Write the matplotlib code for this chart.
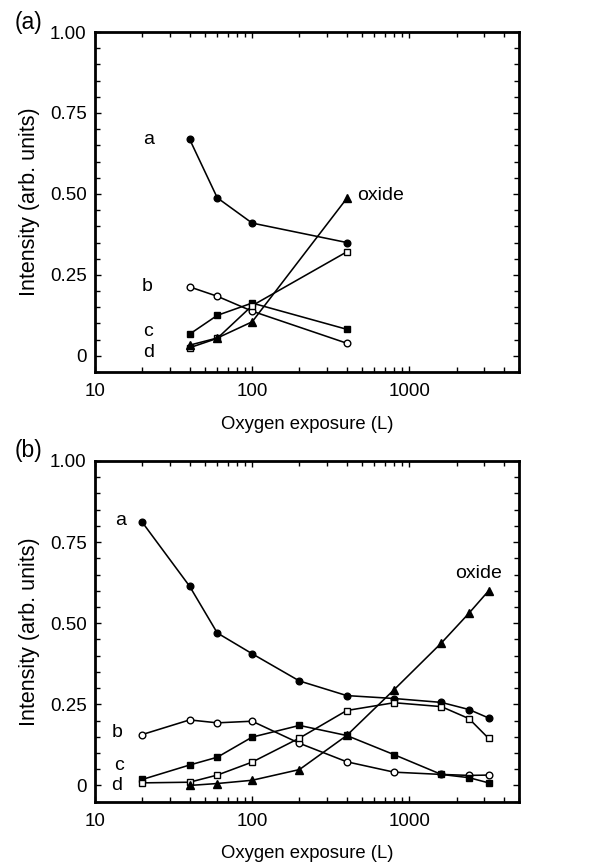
import matplotlib
matplotlib.use("Agg")
import matplotlib.pyplot as plt
from matplotlib.ticker import FixedLocator, FixedFormatter, LogLocator, NullFormatter, MultipleLocator

plt.rcParams['font.family'] = ['Liberation Sans', 'DejaVu Sans']

# Panel (a)
xa = [40, 60, 100, 400]
a_a = [0.669, 0.488, 0.410, 0.350]
b_a = [0.213, 0.184, 0.138, 0.039]
c_a = [0.067, 0.125, 0.163, 0.082]
d_a = [0.025, 0.054, 0.155, 0.321]
ox_a = [0.033, 0.055, 0.105, 0.486]

# Panel (b)
xb = [20, 40, 60, 100, 200, 400, 800, 1600, 2400, 3200]
a_b = [0.811, 0.614, 0.470, 0.406, 0.322, 0.277, 0.268, 0.256, 0.234, 0.208]
b_b = [0.157, 0.202, 0.193, 0.198, 0.130, 0.073, 0.041, 0.034, 0.031, 0.032]
c_b = [0.0185, 0.063, 0.087, 0.149, 0.185, 0.154, 0.095, 0.034, 0.024, 0.008]
d_b = [0.008, 0.010, 0.032, 0.072, 0.146, 0.231, 0.255, 0.243, 0.206, 0.145]
xb_ox = [40, 60, 100, 200, 400, 800, 1600, 2400, 3200]
ox_b = [0.0, 0.006, 0.016, 0.049, 0.154, 0.295, 0.439, 0.531, 0.600]

yticks = [0, 0.25, 0.5, 0.75, 1.0]
ytick_labels = ["0", "0.25", "0.50", "0.75", "1.00"]
xticks = [10, 100, 1000]
xtick_labels = ["10", "100", "1000"]

fig = plt.figure(figsize=(5.89, 8.68), dpi=100)
ax1 = fig.add_axes([0.1613, 0.5714, 0.7200, 0.3917])
ax2 = fig.add_axes([0.1613, 0.0764, 0.7200, 0.3925])

ms = 4.8
lw = 1.15
tick_fs = 13.5

def draw(ax, x, a, b, c, d, xo, ox):
    kw = dict(color='black', lw=lw, markeredgewidth=1.0, clip_on=False)
    ax.plot(x, a, marker='o', ms=ms, mfc='black', mec='black', **kw)
    ax.plot(x, b, marker='o', ms=ms, mfc='white', mec='black', **kw)
    ax.plot(x, c, marker='s', ms=ms - 0.4, mfc='black', mec='black', **kw)
    ax.plot(x, d, marker='s', ms=ms - 0.4, mfc='white', mec='black', **kw)
    ax.plot(xo, ox, marker='^', ms=ms + 0.3, mfc='black', mec='black', **kw)
    ax.set_xscale('log')
    ax.set_xlim(10, 5000)
    ax.set_ylim(-0.05, 1.0)
    ax.xaxis.set_major_locator(FixedLocator(xticks))
    ax.xaxis.set_major_formatter(FixedFormatter(xtick_labels))
    ax.xaxis.set_minor_locator(LogLocator(base=10, subs=range(2, 10)))
    ax.xaxis.set_minor_formatter(NullFormatter())
    ax.yaxis.set_major_locator(FixedLocator(yticks))
    ax.yaxis.set_major_formatter(FixedFormatter(ytick_labels))
    ax.yaxis.set_minor_locator(MultipleLocator(0.05))
    ax.tick_params(which='both', direction='in', top=True, right=True, width=1.0)
    ax.tick_params(which='major', length=4.5, labelsize=tick_fs)
    ax.tick_params(which='minor', length=3.3)
    ax.tick_params(axis='x', which='major', pad=8)
    ax.tick_params(axis='y', which='major', pad=6)
    for s in ax.spines.values():
        s.set_linewidth(2.0)
    ax.set_xlabel("Oxygen exposure (L)", fontsize=13.3)
    ax.set_ylabel("Intensity (arb. units)", fontsize=15.5)
    ax.xaxis.set_label_coords(0.5, -0.128)
    ax.yaxis.set_label_coords(-0.13, 0.5)

draw(ax1, xa, a_a, b_a, c_a, d_a, xa, ox_a)
draw(ax2, xb, a_b, b_b, c_b, d_b, xb_ox, ox_b)

fs = 14
# Series labels panel (a)
ax1.text(21.8, 0.667, "a", fontsize=fs, ha='center', va='center')
ax1.text(21.6, 0.215, "b", fontsize=fs, ha='center', va='center')
ax1.text(21.8, 0.074, "c", fontsize=fs, ha='center', va='center')
ax1.text(21.8, 0.010, "d", fontsize=fs, ha='center', va='center')
ax1.text(467, 0.496, "oxide", fontsize=fs, ha='left', va='center')
# Series labels panel (b)
ax2.text(14.5, 0.818, "a", fontsize=fs, ha='center', va='center')
ax2.text(13.9, 0.164, "b", fontsize=fs, ha='center', va='center')
ax2.text(14.15, 0.062, "c", fontsize=fs, ha='center', va='center')
ax2.text(13.8, 0.001, "d", fontsize=fs, ha='center', va='center')
ax2.text(2750, 0.654, "oxide", fontsize=fs, ha='center', va='center')

fig.text(29/589, 1 - 22/868, "(a)", fontsize=16.5, ha='center', va='center')
fig.text(29/589, 1 - 450/868, "(b)", fontsize=16.5, ha='center', va='center')

fig.savefig("out.png", dpi=100)
